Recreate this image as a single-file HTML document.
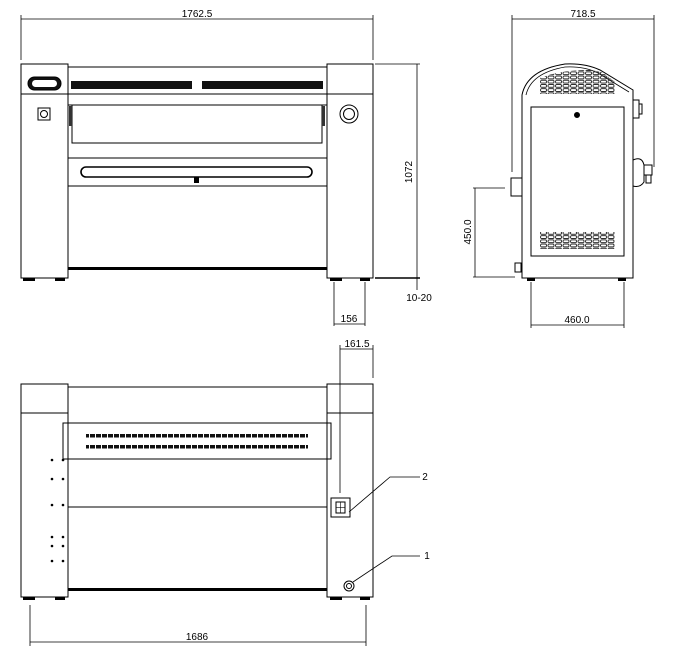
<!DOCTYPE html>
<html><head><meta charset="utf-8"><style>
html,body{margin:0;padding:0;background:#fff;width:676px;height:662px;overflow:hidden}
svg{display:block}
text{font-family:"Liberation Sans",sans-serif;font-size:10px;fill:#000}
</style></head><body>
<svg width="676" height="662" viewBox="0 0 676 662" xmlns="http://www.w3.org/2000/svg">
<defs>
<pattern id="vent2" width="7.5" height="4.2" patternUnits="userSpaceOnUse"><rect x="0.5" y="0.5" width="6" height="2.8" rx="1.2" fill="none" stroke="#222" stroke-width="0.9"/></pattern>
<pattern id="dash" width="6" height="3" patternUnits="userSpaceOnUse"><rect x="0" y="0" width="5" height="3" fill="#111"/></pattern>
</defs>
<g stroke="#000" fill="none" stroke-width="1">
<!-- FRONT VIEW -->
<line x1="21" y1="19" x2="373" y2="19" stroke-width="0.8"/>
<line x1="21" y1="15" x2="21" y2="60" stroke-width="0.8"/>
<line x1="373" y1="15" x2="373" y2="60" stroke-width="0.8"/>
<rect x="21" y="64" width="47" height="214"/>
<line x1="21" y1="94" x2="68" y2="94"/>
<rect x="327" y="64" width="46" height="214"/>
<line x1="327" y1="94" x2="373" y2="94"/>
<line x1="68" y1="67" x2="327" y2="67"/>
<rect x="71" y="81" width="252" height="8" fill="#111" stroke="none"/>
<rect x="192" y="81" width="10" height="8" fill="#fff" stroke="none"/>
<line x1="68" y1="94" x2="327" y2="94"/>
<line x1="68" y1="105" x2="327" y2="105"/>
<rect x="72" y="105" width="250" height="38"/>
<rect x="69" y="106" width="3" height="20" fill="#333" stroke="none"/>
<rect x="322" y="106" width="3" height="20" fill="#333" stroke="none"/>
<line x1="68" y1="158" x2="327" y2="158"/>
<rect x="81" y="167" width="231" height="10" rx="5" stroke-width="1.6"/>
<rect x="194" y="177" width="5" height="6" fill="#000" stroke="none"/>
<line x1="68" y1="186" x2="327" y2="186"/>
<rect x="68" y="267" width="259" height="3" fill="#000" stroke="none"/>
<rect x="28" y="77" width="33" height="13" rx="6.5" fill="#111"/>
<rect x="32" y="80" width="25" height="7" rx="3.5" fill="#fff" stroke="none"/>
<rect x="38" y="108" width="12" height="12"/>
<circle cx="44" cy="114" r="3.5"/>
<circle cx="349" cy="114" r="9"/><circle cx="349" cy="114" r="5.5"/>
<g fill="#000" stroke="none">
<rect x="23" y="278" width="12" height="3"/><rect x="55" y="278" width="10" height="3"/>
<rect x="330" y="278" width="12" height="3"/><rect x="360" y="278" width="10" height="3"/>
</g>
<line x1="375" y1="64" x2="420" y2="64" stroke-width="0.8"/>
<line x1="375" y1="278" x2="420" y2="278" stroke-width="1.4"/>
<line x1="417" y1="64" x2="417" y2="290" stroke-width="0.8"/>
<line x1="334" y1="282" x2="334" y2="326" stroke-width="0.8"/>
<line x1="365" y1="282" x2="365" y2="326" stroke-width="0.8"/>
<line x1="334" y1="324" x2="365" y2="324" stroke-width="0.8"/>
<!-- SIDE VIEW -->
<line x1="512" y1="19" x2="654" y2="19" stroke-width="0.8"/>
<line x1="512" y1="15" x2="512" y2="172" stroke-width="0.8"/>
<line x1="654" y1="15" x2="654" y2="167" stroke-width="0.8"/>
<path d="M522 278 V95 Q527 70 565 64 Q585 63 600 70 L633 90 V278 Z"/>
<path d="M526 95 Q531 73 565 67 Q584 66 598 73 L629 92" stroke-width="0.8"/>
<rect x="531" y="107" width="93" height="149"/>
<path d="M540 78 Q560 70 590 70 L602 72 L615 82 L615 94 L540 94 Z" fill="url(#vent2)" stroke="none"/>
<rect x="540" y="232" width="75" height="17" fill="url(#vent2)" stroke="none"/>
<circle cx="577" cy="115" r="2.5" fill="#000"/>
<rect x="511" y="178" width="11" height="18"/>
<rect x="515" y="263" width="6" height="9"/>
<rect x="633" y="100" width="6" height="18"/><rect x="639" y="104" width="3" height="10"/>
<path d="M633 160 Q642 156 644 165 L644 182 Q640 188 633 186 Z"/>
<rect x="644" y="165" width="8" height="10"/><rect x="646" y="175" width="5" height="8"/>
<g fill="#000" stroke="none"><rect x="527" y="278" width="8" height="3"/><rect x="618" y="278" width="8" height="3"/></g>
<line x1="473" y1="188" x2="505" y2="188" stroke-width="0.8"/>
<line x1="473" y1="277" x2="515" y2="277" stroke-width="0.8"/>
<line x1="475" y1="188" x2="475" y2="277" stroke-width="0.8"/>
<line x1="531" y1="282" x2="531" y2="328" stroke-width="0.8"/>
<line x1="624" y1="282" x2="624" y2="328" stroke-width="0.8"/>
<line x1="531" y1="325" x2="624" y2="325" stroke-width="0.8"/>
<!-- REAR VIEW -->
<line x1="340" y1="349" x2="373" y2="349" stroke-width="0.8"/>
<line x1="340" y1="345" x2="340" y2="493" stroke-width="0.8"/>
<line x1="373" y1="345" x2="373" y2="378" stroke-width="0.8"/>
<rect x="21" y="384" width="47" height="213"/>
<line x1="21" y1="413" x2="68" y2="413"/>
<rect x="327" y="384" width="46" height="213"/>
<line x1="327" y1="413" x2="373" y2="413"/>
<rect x="68" y="387" width="259" height="36"/>
<rect x="63" y="423" width="268" height="36"/>
<rect x="86" y="434" width="222" height="3.5" fill="url(#dash)" stroke="none"/>
<rect x="86" y="445" width="222" height="3.5" fill="url(#dash)" stroke="none"/>
<line x1="68" y1="507" x2="327" y2="507"/>
<line x1="68" y1="459" x2="68" y2="588"/>
<line x1="327" y1="459" x2="327" y2="588"/>
<rect x="68" y="588" width="259" height="3" fill="#000" stroke="none"/>
<g fill="#000" stroke="none">
<rect x="23" y="597" width="12" height="3"/><rect x="55" y="597" width="10" height="3"/>
<rect x="330" y="597" width="12" height="3"/><rect x="360" y="597" width="10" height="3"/>
<circle cx="52" cy="460" r="1.3"/><circle cx="63" cy="460" r="1.3"/>
<circle cx="52" cy="479" r="1.3"/><circle cx="63" cy="479" r="1.3"/>
<circle cx="52" cy="505" r="1.3"/><circle cx="63" cy="505" r="1.3"/>
<circle cx="52" cy="537" r="1.3"/><circle cx="63" cy="537" r="1.3"/>
<circle cx="52" cy="546" r="1.3"/><circle cx="63" cy="546" r="1.3"/>
<circle cx="52" cy="561" r="1.3"/><circle cx="63" cy="561" r="1.3"/>
</g>
<rect x="331" y="498" width="19" height="19"/>
<rect x="336" y="502" width="9" height="11"/>
<line x1="340.5" y1="502" x2="340.5" y2="513" stroke-width="0.6"/>
<line x1="336" y1="507.5" x2="345" y2="507.5" stroke-width="0.6"/>
<polyline points="349,512 390,477 420,477" stroke-width="0.8"/>
<circle cx="349" cy="586" r="5"/><circle cx="349" cy="586" r="2.5"/>
<polyline points="353,582 392,556 420,556" stroke-width="0.8"/>
<line x1="30" y1="605" x2="30" y2="646" stroke-width="0.8"/>
<line x1="366" y1="605" x2="366" y2="646" stroke-width="0.8"/>
<line x1="30" y1="642" x2="366" y2="642" stroke-width="0.8"/>
</g>
<text x="197" y="17" text-anchor="middle">1762.5</text>
<text x="412" y="172" text-anchor="middle" transform="rotate(-90 412 172)">1072</text>
<text x="419" y="301" text-anchor="middle">10-20</text>
<text x="349" y="322" text-anchor="middle">156</text>
<text x="583" y="17" text-anchor="middle">718.5</text>
<text x="471" y="232" text-anchor="middle" transform="rotate(-90 471 232)">450.0</text>
<text x="577" y="323" text-anchor="middle">460.0</text>
<text x="357" y="347" text-anchor="middle">161.5</text>
<text x="425" y="480" text-anchor="middle">2</text>
<text x="427" y="559" text-anchor="middle">1</text>
<text x="197" y="640" text-anchor="middle">1686</text>
</svg>
</body></html>
